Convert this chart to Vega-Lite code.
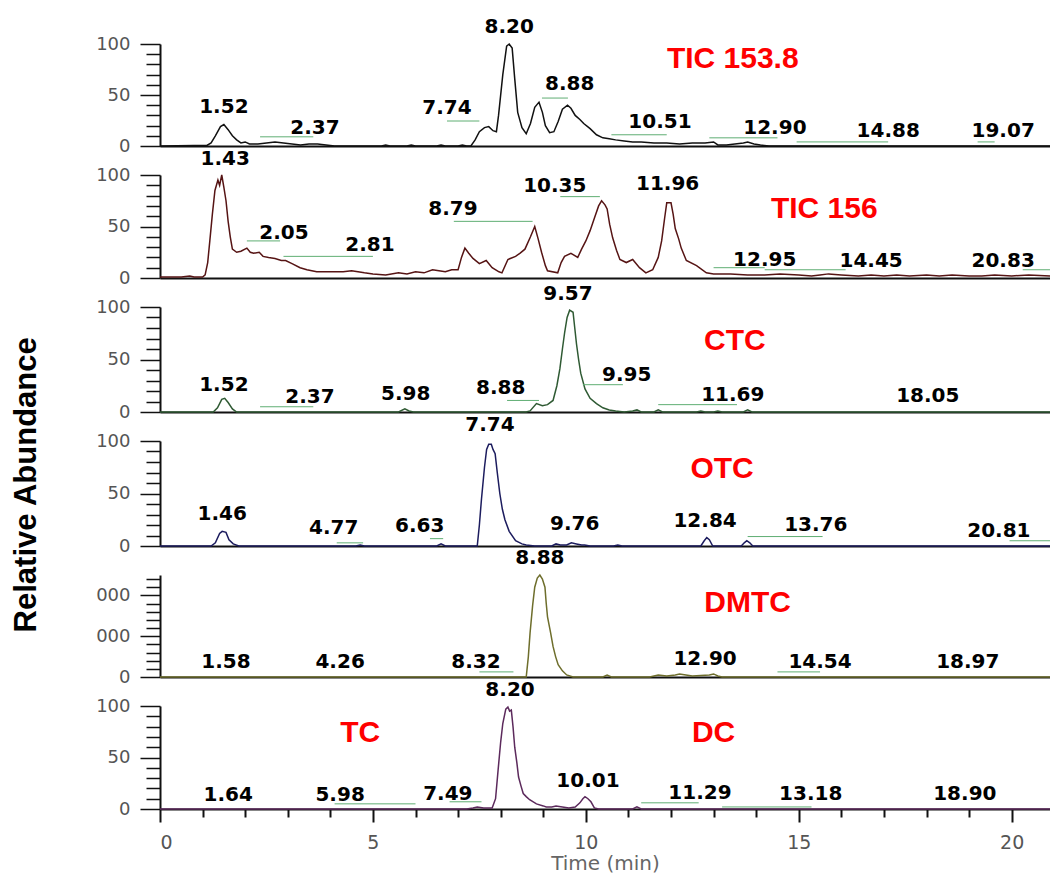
{
  "$schema": "https://vega.github.io/schema/vega-lite/v6.json",
  "background": "white",
  "padding": {"left": 10, "top": 16, "right": 0, "bottom": 0},
  "config": {"view": {"stroke": null}},
  "title": {"text": "Relative Abundance", "orient": "left", "anchor": "middle", "font": "Liberation Sans", "fontSize": 31, "fontWeight": "bold", "color": "#000", "offset": 53, "dx": -40},
  "spacing": 29,
  "bounds": "flush",
  "datasets": {
    "tr": [
      {"p":1,"t":0,"v":0},{"p":1,"t":0.8,"v":0.5},{"p":1,"t":1.1,"v":0.5},{"p":1,"t":1.2,"v":3},{"p":1,"t":1.3,"v":10},{"p":1,"t":1.42,"v":19},{"p":1,"t":1.5,"v":21},{"p":1,"t":1.6,"v":16},{"p":1,"t":1.7,"v":10},{"p":1,"t":1.8,"v":6},{"p":1,"t":1.9,"v":3},{"p":1,"t":2.0,"v":4},{"p":1,"t":2.1,"v":2},{"p":1,"t":2.3,"v":2},{"p":1,"t":2.5,"v":3},{"p":1,"t":2.7,"v":4},{"p":1,"t":2.9,"v":3},{"p":1,"t":3.1,"v":2},{"p":1,"t":3.3,"v":1},{"p":1,"t":3.5,"v":2},{"p":1,"t":3.7,"v":2},{"p":1,"t":3.9,"v":1},{"p":1,"t":4.1,"v":0},{"p":1,"t":5.2,"v":0},{"p":1,"t":5.3,"v":1},{"p":1,"t":5.4,"v":0},{"p":1,"t":5.8,"v":0},{"p":1,"t":5.9,"v":1},{"p":1,"t":6.0,"v":0},{"p":1,"t":6.5,"v":0},{"p":1,"t":6.6,"v":1},{"p":1,"t":6.7,"v":0},{"p":1,"t":7.0,"v":0},{"p":1,"t":7.1,"v":1},{"p":1,"t":7.2,"v":0},{"p":1,"t":7.3,"v":0},{"p":1,"t":7.4,"v":6},{"p":1,"t":7.5,"v":14},{"p":1,"t":7.62,"v":18},{"p":1,"t":7.72,"v":19},{"p":1,"t":7.82,"v":15},{"p":1,"t":7.9,"v":14},{"p":1,"t":7.95,"v":30},{"p":1,"t":8.05,"v":70},{"p":1,"t":8.14,"v":98},{"p":1,"t":8.2,"v":100},{"p":1,"t":8.27,"v":96},{"p":1,"t":8.33,"v":66},{"p":1,"t":8.4,"v":33},{"p":1,"t":8.5,"v":18},{"p":1,"t":8.6,"v":12},{"p":1,"t":8.7,"v":22},{"p":1,"t":8.8,"v":38},{"p":1,"t":8.9,"v":43},{"p":1,"t":8.98,"v":33},{"p":1,"t":9.05,"v":20},{"p":1,"t":9.15,"v":13},{"p":1,"t":9.25,"v":14},{"p":1,"t":9.35,"v":24},{"p":1,"t":9.45,"v":36},{"p":1,"t":9.57,"v":40},{"p":1,"t":9.65,"v":37},{"p":1,"t":9.75,"v":30},{"p":1,"t":9.86,"v":26},{"p":1,"t":9.95,"v":22},{"p":1,"t":10.1,"v":17},{"p":1,"t":10.25,"v":11},{"p":1,"t":10.4,"v":8},{"p":1,"t":10.55,"v":7},{"p":1,"t":10.7,"v":6},{"p":1,"t":10.9,"v":5},{"p":1,"t":11.1,"v":4},{"p":1,"t":11.3,"v":4},{"p":1,"t":11.6,"v":3},{"p":1,"t":11.9,"v":3},{"p":1,"t":12.2,"v":2},{"p":1,"t":12.5,"v":3},{"p":1,"t":12.8,"v":3},{"p":1,"t":13.0,"v":4},{"p":1,"t":13.1,"v":1},{"p":1,"t":13.3,"v":1},{"p":1,"t":13.5,"v":2},{"p":1,"t":13.7,"v":3},{"p":1,"t":13.8,"v":4},{"p":1,"t":13.95,"v":2},{"p":1,"t":14.1,"v":1},{"p":1,"t":14.3,"v":0},{"p":1,"t":20.9,"v":0},
      {"p":2,"t":0,"v":1},{"p":2,"t":0.5,"v":1},{"p":2,"t":0.7,"v":2},{"p":2,"t":0.8,"v":1},{"p":2,"t":1.0,"v":1},{"p":2,"t":1.06,"v":3},{"p":2,"t":1.12,"v":15},{"p":2,"t":1.17,"v":36},{"p":2,"t":1.23,"v":62},{"p":2,"t":1.29,"v":85},{"p":2,"t":1.36,"v":95},{"p":2,"t":1.4,"v":90},{"p":2,"t":1.45,"v":100},{"p":2,"t":1.5,"v":88},{"p":2,"t":1.55,"v":75},{"p":2,"t":1.6,"v":55},{"p":2,"t":1.65,"v":40},{"p":2,"t":1.7,"v":28},{"p":2,"t":1.8,"v":25},{"p":2,"t":1.9,"v":26},{"p":2,"t":2.04,"v":29},{"p":2,"t":2.12,"v":25},{"p":2,"t":2.2,"v":24},{"p":2,"t":2.33,"v":25},{"p":2,"t":2.42,"v":21},{"p":2,"t":2.55,"v":20},{"p":2,"t":2.7,"v":19},{"p":2,"t":2.85,"v":17},{"p":2,"t":2.95,"v":17},{"p":2,"t":3.1,"v":14},{"p":2,"t":3.29,"v":10},{"p":2,"t":3.45,"v":8},{"p":2,"t":3.68,"v":6},{"p":2,"t":4.0,"v":6},{"p":2,"t":4.3,"v":6},{"p":2,"t":4.5,"v":7},{"p":2,"t":4.8,"v":5},{"p":2,"t":5.0,"v":4},{"p":2,"t":5.3,"v":3},{"p":2,"t":5.6,"v":5},{"p":2,"t":5.8,"v":4},{"p":2,"t":6.0,"v":6},{"p":2,"t":6.2,"v":5},{"p":2,"t":6.4,"v":8},{"p":2,"t":6.55,"v":7},{"p":2,"t":6.7,"v":6},{"p":2,"t":6.85,"v":8},{"p":2,"t":7.0,"v":8},{"p":2,"t":7.08,"v":20},{"p":2,"t":7.16,"v":29},{"p":2,"t":7.25,"v":24},{"p":2,"t":7.35,"v":19},{"p":2,"t":7.5,"v":14},{"p":2,"t":7.66,"v":17},{"p":2,"t":7.8,"v":10},{"p":2,"t":7.96,"v":6},{"p":2,"t":8.03,"v":5},{"p":2,"t":8.17,"v":18},{"p":2,"t":8.35,"v":21},{"p":2,"t":8.45,"v":24},{"p":2,"t":8.57,"v":28},{"p":2,"t":8.7,"v":40},{"p":2,"t":8.8,"v":50},{"p":2,"t":8.88,"v":38},{"p":2,"t":8.96,"v":25},{"p":2,"t":9.05,"v":12},{"p":2,"t":9.1,"v":7},{"p":2,"t":9.34,"v":5},{"p":2,"t":9.42,"v":15},{"p":2,"t":9.5,"v":21},{"p":2,"t":9.65,"v":24},{"p":2,"t":9.81,"v":20},{"p":2,"t":9.9,"v":28},{"p":2,"t":10.0,"v":36},{"p":2,"t":10.1,"v":46},{"p":2,"t":10.2,"v":58},{"p":2,"t":10.3,"v":70},{"p":2,"t":10.37,"v":75},{"p":2,"t":10.45,"v":71},{"p":2,"t":10.5,"v":67},{"p":2,"t":10.56,"v":52},{"p":2,"t":10.63,"v":39},{"p":2,"t":10.72,"v":27},{"p":2,"t":10.8,"v":18},{"p":2,"t":10.95,"v":15},{"p":2,"t":11.1,"v":18},{"p":2,"t":11.26,"v":10},{"p":2,"t":11.41,"v":5},{"p":2,"t":11.57,"v":8},{"p":2,"t":11.7,"v":20},{"p":2,"t":11.78,"v":36},{"p":2,"t":11.85,"v":58},{"p":2,"t":11.9,"v":73},{"p":2,"t":12.0,"v":73},{"p":2,"t":12.05,"v":62},{"p":2,"t":12.1,"v":48},{"p":2,"t":12.18,"v":38},{"p":2,"t":12.24,"v":29},{"p":2,"t":12.36,"v":17},{"p":2,"t":12.6,"v":12},{"p":2,"t":12.83,"v":5},{"p":2,"t":13.0,"v":4},{"p":2,"t":13.4,"v":4},{"p":2,"t":13.8,"v":3},{"p":2,"t":14.2,"v":3},{"p":2,"t":14.56,"v":4},{"p":2,"t":15.0,"v":3},{"p":2,"t":15.3,"v":2},{"p":2,"t":15.5,"v":3},{"p":2,"t":15.7,"v":4},{"p":2,"t":16.0,"v":3},{"p":2,"t":16.4,"v":2},{"p":2,"t":16.7,"v":3},{"p":2,"t":17.0,"v":2},{"p":2,"t":17.3,"v":3},{"p":2,"t":17.6,"v":2},{"p":2,"t":18.0,"v":3},{"p":2,"t":18.3,"v":2},{"p":2,"t":18.6,"v":3},{"p":2,"t":19.0,"v":2},{"p":2,"t":19.3,"v":2},{"p":2,"t":19.6,"v":3},{"p":2,"t":20.0,"v":2},{"p":2,"t":20.4,"v":3},{"p":2,"t":20.9,"v":2},
      {"p":3,"t":0,"v":0},{"p":3,"t":1.25,"v":0},{"p":3,"t":1.35,"v":4},{"p":3,"t":1.45,"v":12},{"p":3,"t":1.52,"v":13},{"p":3,"t":1.6,"v":9},{"p":3,"t":1.7,"v":3},{"p":3,"t":1.8,"v":0},{"p":3,"t":5.6,"v":0},{"p":3,"t":5.75,"v":3},{"p":3,"t":5.85,"v":1},{"p":3,"t":5.95,"v":0},{"p":3,"t":8.6,"v":0},{"p":3,"t":8.69,"v":1},{"p":3,"t":8.84,"v":8},{"p":3,"t":8.98,"v":6},{"p":3,"t":9.1,"v":7},{"p":3,"t":9.23,"v":11},{"p":3,"t":9.32,"v":25},{"p":3,"t":9.39,"v":41},{"p":3,"t":9.45,"v":60},{"p":3,"t":9.5,"v":75},{"p":3,"t":9.56,"v":90},{"p":3,"t":9.62,"v":97},{"p":3,"t":9.7,"v":95},{"p":3,"t":9.74,"v":80},{"p":3,"t":9.78,"v":65},{"p":3,"t":9.83,"v":50},{"p":3,"t":9.88,"v":37},{"p":3,"t":9.98,"v":22},{"p":3,"t":10.1,"v":13},{"p":3,"t":10.25,"v":8},{"p":3,"t":10.4,"v":4},{"p":3,"t":10.55,"v":2},{"p":3,"t":10.7,"v":1},{"p":3,"t":10.9,"v":0},{"p":3,"t":11.1,"v":1},{"p":3,"t":11.2,"v":2},{"p":3,"t":11.3,"v":0},{"p":3,"t":11.6,"v":0},{"p":3,"t":11.7,"v":2},{"p":3,"t":11.8,"v":0},{"p":3,"t":12.6,"v":0},{"p":3,"t":12.7,"v":1},{"p":3,"t":12.8,"v":0},{"p":3,"t":13.0,"v":0},{"p":3,"t":13.1,"v":1},{"p":3,"t":13.2,"v":0},{"p":3,"t":13.7,"v":0},{"p":3,"t":13.8,"v":2},{"p":3,"t":13.9,"v":0},{"p":3,"t":20.9,"v":0},
      {"p":4,"t":0,"v":0},{"p":4,"t":1.2,"v":0},{"p":4,"t":1.3,"v":3},{"p":4,"t":1.4,"v":12},{"p":4,"t":1.46,"v":14},{"p":4,"t":1.55,"v":13},{"p":4,"t":1.62,"v":6},{"p":4,"t":1.72,"v":2},{"p":4,"t":1.85,"v":0},{"p":4,"t":4.6,"v":0},{"p":4,"t":4.7,"v":1},{"p":4,"t":4.8,"v":0},{"p":4,"t":6.5,"v":0},{"p":4,"t":6.6,"v":2},{"p":4,"t":6.7,"v":0},{"p":4,"t":7.45,"v":0},{"p":4,"t":7.5,"v":20},{"p":4,"t":7.55,"v":45},{"p":4,"t":7.62,"v":75},{"p":4,"t":7.67,"v":92},{"p":4,"t":7.72,"v":97},{"p":4,"t":7.78,"v":97},{"p":4,"t":7.82,"v":92},{"p":4,"t":7.87,"v":88},{"p":4,"t":7.92,"v":70},{"p":4,"t":7.98,"v":50},{"p":4,"t":8.04,"v":35},{"p":4,"t":8.1,"v":25},{"p":4,"t":8.2,"v":14},{"p":4,"t":8.35,"v":5},{"p":4,"t":8.5,"v":2},{"p":4,"t":8.6,"v":1},{"p":4,"t":8.8,"v":0},{"p":4,"t":9.2,"v":0},{"p":4,"t":9.3,"v":2},{"p":4,"t":9.4,"v":1},{"p":4,"t":9.55,"v":1},{"p":4,"t":9.66,"v":3},{"p":4,"t":9.78,"v":2},{"p":4,"t":9.9,"v":1},{"p":4,"t":9.97,"v":1},{"p":4,"t":10.1,"v":0},{"p":4,"t":10.65,"v":0},{"p":4,"t":10.75,"v":1},{"p":4,"t":10.85,"v":0},{"p":4,"t":12.7,"v":0},{"p":4,"t":12.78,"v":5},{"p":4,"t":12.84,"v":8},{"p":4,"t":12.9,"v":6},{"p":4,"t":12.98,"v":0},{"p":4,"t":13.65,"v":0},{"p":4,"t":13.72,"v":3},{"p":4,"t":13.78,"v":5},{"p":4,"t":13.85,"v":3},{"p":4,"t":13.92,"v":0},{"p":4,"t":20.9,"v":0},
      {"p":5,"t":0,"v":0},{"p":5,"t":8.6,"v":0},{"p":5,"t":8.65,"v":20},{"p":5,"t":8.69,"v":43},{"p":5,"t":8.75,"v":70},{"p":5,"t":8.8,"v":88},{"p":5,"t":8.86,"v":97},{"p":5,"t":8.92,"v":100},{"p":5,"t":8.98,"v":96},{"p":5,"t":9.04,"v":88},{"p":5,"t":9.07,"v":72},{"p":5,"t":9.1,"v":59},{"p":5,"t":9.17,"v":44},{"p":5,"t":9.23,"v":30},{"p":5,"t":9.29,"v":20},{"p":5,"t":9.35,"v":12},{"p":5,"t":9.45,"v":6},{"p":5,"t":9.55,"v":2},{"p":5,"t":9.7,"v":0},{"p":5,"t":10.4,"v":0},{"p":5,"t":10.5,"v":2},{"p":5,"t":10.6,"v":0},{"p":5,"t":11.5,"v":0},{"p":5,"t":11.7,"v":2},{"p":5,"t":11.9,"v":1},{"p":5,"t":12.1,"v":2},{"p":5,"t":12.2,"v":3},{"p":5,"t":12.35,"v":2},{"p":5,"t":12.5,"v":1},{"p":5,"t":12.9,"v":2},{"p":5,"t":13.0,"v":3},{"p":5,"t":13.1,"v":1},{"p":5,"t":13.2,"v":0},{"p":5,"t":20.9,"v":0},
      {"p":6,"t":0,"v":0},{"p":6,"t":7.2,"v":0},{"p":6,"t":7.35,"v":1},{"p":6,"t":7.45,"v":2},{"p":6,"t":7.6,"v":1},{"p":6,"t":7.8,"v":1},{"p":6,"t":7.88,"v":10},{"p":6,"t":7.94,"v":38},{"p":6,"t":8.0,"v":65},{"p":6,"t":8.05,"v":83},{"p":6,"t":8.12,"v":97},{"p":6,"t":8.17,"v":99},{"p":6,"t":8.21,"v":95},{"p":6,"t":8.25,"v":96},{"p":6,"t":8.29,"v":80},{"p":6,"t":8.33,"v":60},{"p":6,"t":8.38,"v":45},{"p":6,"t":8.42,"v":31},{"p":6,"t":8.48,"v":22},{"p":6,"t":8.53,"v":15},{"p":6,"t":8.6,"v":12},{"p":6,"t":8.68,"v":9},{"p":6,"t":8.84,"v":5},{"p":6,"t":9.0,"v":3},{"p":6,"t":9.07,"v":2},{"p":6,"t":9.2,"v":2},{"p":6,"t":9.3,"v":3},{"p":6,"t":9.45,"v":2},{"p":6,"t":9.6,"v":1},{"p":6,"t":9.75,"v":2},{"p":6,"t":9.86,"v":6},{"p":6,"t":9.93,"v":10},{"p":6,"t":9.98,"v":12},{"p":6,"t":10.05,"v":10},{"p":6,"t":10.12,"v":7},{"p":6,"t":10.2,"v":1},{"p":6,"t":10.3,"v":0},{"p":6,"t":11.1,"v":0},{"p":6,"t":11.2,"v":2},{"p":6,"t":11.3,"v":0},{"p":6,"t":20.9,"v":0}
    ],
    "lb": [
      {"p":1,"t":1.5,"v":38,"s":"1.52"},{"p":1,"t":3.64,"v":17.6,"s":"2.37"},{"p":1,"t":6.74,"v":37,"s":"7.74"},{"p":1,"t":8.2,"v":117,"s":"8.20"},{"p":1,"t":9.62,"v":61,"s":"8.88"},{"p":1,"t":11.74,"v":23.5,"s":"10.51"},{"p":1,"t":14.44,"v":17.6,"s":"12.90"},{"p":1,"t":17.1,"v":14.7,"s":"14.88"},{"p":1,"t":19.8,"v":14.7,"s":"19.07"},
      {"p":2,"t":1.53,"v":115.5,"s":"1.43"},{"p":2,"t":2.91,"v":43.7,"s":"2.05"},{"p":2,"t":4.93,"v":32,"s":"2.81"},{"p":2,"t":6.88,"v":67,"s":"8.79"},{"p":2,"t":9.27,"v":89,"s":"10.35"},{"p":2,"t":11.92,"v":91,"s":"11.96"},{"p":2,"t":14.2,"v":17.5,"s":"12.95"},{"p":2,"t":16.7,"v":16.5,"s":"14.45"},{"p":2,"t":19.8,"v":16.5,"s":"20.83"},
      {"p":3,"t":1.5,"v":26,"s":"1.52"},{"p":3,"t":3.52,"v":14,"s":"2.37"},{"p":3,"t":5.77,"v":17,"s":"5.98"},{"p":3,"t":8.0,"v":22.4,"s":"8.88"},{"p":3,"t":9.58,"v":112,"s":"9.57"},{"p":3,"t":10.96,"v":35.5,"s":"9.95"},{"p":3,"t":13.45,"v":16,"s":"11.69"},{"p":3,"t":18.03,"v":15,"s":"18.05"},
      {"p":4,"t":1.46,"v":30.5,"s":"1.46"},{"p":4,"t":4.08,"v":17,"s":"4.77"},{"p":4,"t":6.1,"v":19,"s":"6.63"},{"p":4,"t":7.75,"v":115,"s":"7.74"},{"p":4,"t":9.74,"v":21,"s":"9.76"},{"p":4,"t":12.8,"v":24,"s":"12.84"},{"p":4,"t":15.4,"v":20,"s":"13.76"},{"p":4,"t":19.7,"v":14,"s":"20.81"},
      {"p":5,"t":1.55,"v":14.7,"s":"1.58"},{"p":5,"t":4.23,"v":14.7,"s":"4.26"},{"p":5,"t":7.42,"v":14.7,"s":"8.32"},{"p":5,"t":8.92,"v":117,"s":"8.88"},{"p":5,"t":12.8,"v":17.6,"s":"12.90"},{"p":5,"t":15.5,"v":14.7,"s":"14.54"},{"p":5,"t":18.97,"v":14.7,"s":"18.97"},
      {"p":6,"t":8.22,"v":115.5,"s":"8.20"},{"p":6,"t":1.6,"v":13.6,"s":"1.64"},{"p":6,"t":4.23,"v":13.6,"s":"5.98"},{"p":6,"t":6.76,"v":14.5,"s":"7.49"},{"p":6,"t":10.05,"v":27,"s":"10.01"},{"p":6,"t":12.68,"v":15.5,"s":"11.29"},{"p":6,"t":15.28,"v":14.5,"s":"13.18"},{"p":6,"t":18.9,"v":14.5,"s":"18.90"}
    ],
    "gs": [
      {"p":1,"t":2.35,"t2":3.6,"v":9},{"p":1,"t":6.74,"t2":7.5,"v":24.5},{"p":1,"t":8.97,"t2":9.58,"v":47},{"p":1,"t":10.6,"t2":11.9,"v":11},{"p":1,"t":12.9,"t2":14.5,"v":8},{"p":1,"t":14.95,"t2":17.1,"v":4},{"p":1,"t":19.2,"t2":19.6,"v":4},
      {"p":2,"t":2.04,"t2":2.82,"v":36},{"p":2,"t":2.9,"t2":5.0,"v":21},{"p":2,"t":6.9,"t2":8.75,"v":55},{"p":2,"t":9.4,"t2":10.33,"v":79},{"p":2,"t":13.0,"t2":14.2,"v":10},{"p":2,"t":14.2,"t2":16.1,"v":8},{"p":2,"t":20.26,"t2":20.9,"v":8},
      {"p":3,"t":2.35,"t2":3.6,"v":5},{"p":3,"t":8.15,"t2":8.9,"v":11},{"p":3,"t":9.93,"t2":10.87,"v":26},{"p":3,"t":11.7,"t2":13.55,"v":7},
      {"p":4,"t":4.15,"t2":4.77,"v":3},{"p":4,"t":6.34,"t2":6.65,"v":7},{"p":4,"t":13.8,"t2":15.56,"v":9},{"p":4,"t":19.95,"t2":20.9,"v":5},
      {"p":5,"t":7.5,"t2":8.3,"v":5},{"p":5,"t":14.5,"t2":15.5,"v":5},
      {"p":6,"t":4.1,"t2":6.0,"v":5},{"p":6,"t":6.8,"t2":7.55,"v":7},{"p":6,"t":11.3,"t2":12.65,"v":6},{"p":6,"t":13.2,"t2":15.3,"v":2}
    ],
    "nm": [
      {"p":1,"t":13.45,"v":85,"s":"TIC 153.8"},
      {"p":2,"t":15.6,"v":67,"s":"TIC 156"},
      {"p":3,"t":13.5,"v":68,"s":"CTC"},
      {"p":4,"t":13.2,"v":73,"s":"OTC"},
      {"p":5,"t":13.8,"v":73,"s":"DMTC"},
      {"p":6,"t":4.7,"v":74,"s":"TC"},
      {"p":6,"t":13.0,"v":74,"s":"DC"}
    ]
  },
  "vconcat": [
    {
      "width": 890, "height": 102,
      "encoding": {
        "x": {"field": "t", "type": "quantitative", "scale": {"domain": [0, 20.9], "nice": false, "zero": false}, "axis": {"labels": false, "ticks": false, "title": null, "grid": false, "domainColor": "#111", "domainWidth": 2}},
        "y": {"field": "v", "type": "quantitative", "scale": {"domain": [0, 100], "nice": false}, "axis": {"values": [0,10,20,30,40,50,60,70,80,90,100], "labelExpr": "datum.value == 0 || datum.value == 50 || datum.value == 100 ? datum.label : ''", "title": null, "grid": false, "domainColor": "#111", "domainWidth": 2, "tickColor": "#111", "tickWidth": 1.5, "tickSize": {"condition": {"test": "datum.value == 0 || datum.value == 50 || datum.value == 100", "value": 20}, "value": 14}, "labelFont": "DejaVu Sans", "labelFontSize": 18, "labelColor": "#555", "labelPadding": 10, "labelOverlap": false}}
      },
      "layer": [
        {"data": {"name": "tr"}, "transform": [{"filter": "datum.p == 1"}], "mark": {"type": "line", "color": "#111111", "strokeWidth": 1.5}},
        {"data": {"name": "gs"}, "transform": [{"filter": "datum.p == 1"}], "mark": {"type": "rule", "color": "#5fae73", "strokeWidth": 1}, "encoding": {"x2": {"field": "t2"}}},
        {"data": {"name": "lb"}, "transform": [{"filter": "datum.p == 1"}], "mark": {"type": "text", "font": "DejaVu Sans", "fontWeight": "bold", "fontSize": 20, "color": "#000", "baseline": "middle", "align": "center", "clip": false}, "encoding": {"text": {"field": "s"}}},
        {"data": {"name": "nm"}, "transform": [{"filter": "datum.p == 1"}], "mark": {"type": "text", "font": "Liberation Sans", "fontWeight": "bold", "fontSize": 30, "color": "#ff0000", "baseline": "middle", "align": "center"}, "encoding": {"text": {"field": "s"}}}
      ]
    },
    {
      "width": 890, "height": 103,
      "encoding": {
        "x": {"field": "t", "type": "quantitative", "scale": {"domain": [0, 20.9], "nice": false, "zero": false}, "axis": {"labels": false, "ticks": false, "title": null, "grid": false, "domainColor": "#111", "domainWidth": 2}},
        "y": {"field": "v", "type": "quantitative", "scale": {"domain": [0, 100], "nice": false}, "axis": {"values": [0,10,20,30,40,50,60,70,80,90,100], "labelExpr": "datum.value == 0 || datum.value == 50 || datum.value == 100 ? datum.label : ''", "title": null, "grid": false, "domainColor": "#111", "domainWidth": 2, "tickColor": "#111", "tickWidth": 1.5, "tickSize": {"condition": {"test": "datum.value == 0 || datum.value == 50 || datum.value == 100", "value": 20}, "value": 14}, "labelFont": "DejaVu Sans", "labelFontSize": 18, "labelColor": "#555", "labelPadding": 10, "labelOverlap": false}}
      },
      "layer": [
        {"data": {"name": "tr"}, "transform": [{"filter": "datum.p == 2"}], "mark": {"type": "line", "color": "#561414", "strokeWidth": 1.5}},
        {"data": {"name": "gs"}, "transform": [{"filter": "datum.p == 2"}], "mark": {"type": "rule", "color": "#5fae73", "strokeWidth": 1}, "encoding": {"x2": {"field": "t2"}}},
        {"data": {"name": "lb"}, "transform": [{"filter": "datum.p == 2"}], "mark": {"type": "text", "font": "DejaVu Sans", "fontWeight": "bold", "fontSize": 20, "color": "#000", "baseline": "middle", "align": "center", "clip": false}, "encoding": {"text": {"field": "s"}}},
        {"data": {"name": "nm"}, "transform": [{"filter": "datum.p == 2"}], "mark": {"type": "text", "font": "Liberation Sans", "fontWeight": "bold", "fontSize": 30, "color": "#ff0000", "baseline": "middle", "align": "center"}, "encoding": {"text": {"field": "s"}}}
      ]
    },
    {
      "width": 890, "height": 105,
      "encoding": {
        "x": {"field": "t", "type": "quantitative", "scale": {"domain": [0, 20.9], "nice": false, "zero": false}, "axis": {"labels": false, "ticks": false, "title": null, "grid": false, "domainColor": "#111", "domainWidth": 2}},
        "y": {"field": "v", "type": "quantitative", "scale": {"domain": [0, 100], "nice": false}, "axis": {"values": [0,10,20,30,40,50,60,70,80,90,100], "labelExpr": "datum.value == 0 || datum.value == 50 || datum.value == 100 ? datum.label : ''", "title": null, "grid": false, "domainColor": "#111", "domainWidth": 2, "tickColor": "#111", "tickWidth": 1.5, "tickSize": {"condition": {"test": "datum.value == 0 || datum.value == 50 || datum.value == 100", "value": 20}, "value": 14}, "labelFont": "DejaVu Sans", "labelFontSize": 18, "labelColor": "#555", "labelPadding": 10, "labelOverlap": false}}
      },
      "layer": [
        {"data": {"name": "tr"}, "transform": [{"filter": "datum.p == 3"}], "mark": {"type": "line", "color": "#2f5a33", "strokeWidth": 1.5}},
        {"data": {"name": "gs"}, "transform": [{"filter": "datum.p == 3"}], "mark": {"type": "rule", "color": "#5fae73", "strokeWidth": 1}, "encoding": {"x2": {"field": "t2"}}},
        {"data": {"name": "lb"}, "transform": [{"filter": "datum.p == 3"}], "mark": {"type": "text", "font": "DejaVu Sans", "fontWeight": "bold", "fontSize": 20, "color": "#000", "baseline": "middle", "align": "center", "clip": false}, "encoding": {"text": {"field": "s"}}},
        {"data": {"name": "nm"}, "transform": [{"filter": "datum.p == 3"}], "mark": {"type": "text", "font": "Liberation Sans", "fontWeight": "bold", "fontSize": 30, "color": "#ff0000", "baseline": "middle", "align": "center"}, "encoding": {"text": {"field": "s"}}}
      ]
    },
    {
      "width": 890, "height": 105,
      "encoding": {
        "x": {"field": "t", "type": "quantitative", "scale": {"domain": [0, 20.9], "nice": false, "zero": false}, "axis": {"labels": false, "ticks": false, "title": null, "grid": false, "domainColor": "#111", "domainWidth": 2}},
        "y": {"field": "v", "type": "quantitative", "scale": {"domain": [0, 100], "nice": false}, "axis": {"values": [0,10,20,30,40,50,60,70,80,90,100], "labelExpr": "datum.value == 0 || datum.value == 50 || datum.value == 100 ? datum.label : ''", "title": null, "grid": false, "domainColor": "#111", "domainWidth": 2, "tickColor": "#111", "tickWidth": 1.5, "tickSize": {"condition": {"test": "datum.value == 0 || datum.value == 50 || datum.value == 100", "value": 20}, "value": 14}, "labelFont": "DejaVu Sans", "labelFontSize": 18, "labelColor": "#555", "labelPadding": 10, "labelOverlap": false}}
      },
      "layer": [
        {"data": {"name": "tr"}, "transform": [{"filter": "datum.p == 4"}], "mark": {"type": "line", "color": "#1c1c5e", "strokeWidth": 1.5}},
        {"data": {"name": "gs"}, "transform": [{"filter": "datum.p == 4"}], "mark": {"type": "rule", "color": "#5fae73", "strokeWidth": 1}, "encoding": {"x2": {"field": "t2"}}},
        {"data": {"name": "lb"}, "transform": [{"filter": "datum.p == 4"}], "mark": {"type": "text", "font": "DejaVu Sans", "fontWeight": "bold", "fontSize": 20, "color": "#000", "baseline": "middle", "align": "center", "clip": false}, "encoding": {"text": {"field": "s"}}},
        {"data": {"name": "nm"}, "transform": [{"filter": "datum.p == 4"}], "mark": {"type": "text", "font": "Liberation Sans", "fontWeight": "bold", "fontSize": 30, "color": "#ff0000", "baseline": "middle", "align": "center"}, "encoding": {"text": {"field": "s"}}}
      ]
    },
    {
      "width": 890, "height": 102,
      "encoding": {
        "x": {"field": "t", "type": "quantitative", "scale": {"domain": [0, 20.9], "nice": false, "zero": false}, "axis": {"labels": false, "ticks": false, "title": null, "grid": false, "domainColor": "#111", "domainWidth": 2}},
        "y": {"field": "v", "type": "quantitative", "scale": {"domain": [0, 100], "nice": false}, "axis": {"values": [0,8,16,24,32,40,48,56,64,72,80,88,96], "labelExpr": "datum.value == 0 ? '0' : (datum.value == 40 || datum.value == 80 ? '000' : '')", "title": null, "grid": false, "domainColor": "#111", "domainWidth": 2, "tickColor": "#111", "tickWidth": 1.5, "tickSize": {"condition": {"test": "datum.value == 0 || datum.value == 40 || datum.value == 80", "value": 20}, "value": 14}, "labelFont": "DejaVu Sans", "labelFontSize": 18, "labelColor": "#555", "labelPadding": 10, "labelOverlap": false}}
      },
      "layer": [
        {"data": {"name": "tr"}, "transform": [{"filter": "datum.p == 5"}], "mark": {"type": "line", "color": "#6e6e2c", "strokeWidth": 1.5}},
        {"data": {"name": "gs"}, "transform": [{"filter": "datum.p == 5"}], "mark": {"type": "rule", "color": "#5fae73", "strokeWidth": 1}, "encoding": {"x2": {"field": "t2"}}},
        {"data": {"name": "lb"}, "transform": [{"filter": "datum.p == 5"}], "mark": {"type": "text", "font": "DejaVu Sans", "fontWeight": "bold", "fontSize": 20, "color": "#000", "baseline": "middle", "align": "center", "clip": false}, "encoding": {"text": {"field": "s"}}},
        {"data": {"name": "nm"}, "transform": [{"filter": "datum.p == 5"}], "mark": {"type": "text", "font": "Liberation Sans", "fontWeight": "bold", "fontSize": 30, "color": "#ff0000", "baseline": "middle", "align": "center"}, "encoding": {"text": {"field": "s"}}}
      ]
    },
    {
      "width": 890, "height": 103,
      "encoding": {
        "x": {"field": "t", "type": "quantitative", "scale": {"domain": [0, 20.9], "nice": false, "zero": false}, "axis": {"values": [0,1,2,3,4,5,6,7,8,9,10,11,12,13,14,15,16,17,18,19,20], "labelExpr": "datum.value % 5 === 0 ? datum.label : ''", "tickSize": {"condition": {"test": "datum.value % 5 === 0", "value": 13}, "value": 8}, "title": "Time (min)", "titleFont": "DejaVu Sans", "titleFontSize": 20, "titleFontWeight": "normal", "titleColor": "#666", "titlePadding": 1, "labelFont": "DejaVu Sans", "labelFontSize": 19, "labelColor": "#555", "labelPadding": 11, "labelOverlap": false, "grid": false, "domainColor": "#111", "domainWidth": 2, "tickColor": "#111", "tickWidth": 2}},
        "y": {"field": "v", "type": "quantitative", "scale": {"domain": [0, 100], "nice": false}, "axis": {"values": [0,10,20,30,40,50,60,70,80,90,100], "labelExpr": "datum.value == 0 || datum.value == 50 || datum.value == 100 ? datum.label : ''", "title": null, "grid": false, "domainColor": "#111", "domainWidth": 2, "tickColor": "#111", "tickWidth": 1.5, "tickSize": {"condition": {"test": "datum.value == 0 || datum.value == 50 || datum.value == 100", "value": 20}, "value": 14}, "labelFont": "DejaVu Sans", "labelFontSize": 18, "labelColor": "#555", "labelPadding": 10, "labelOverlap": false}}
      },
      "layer": [
        {"data": {"name": "tr"}, "transform": [{"filter": "datum.p == 6"}], "mark": {"type": "line", "color": "#5c2a5c", "strokeWidth": 1.5}},
        {"data": {"name": "gs"}, "transform": [{"filter": "datum.p == 6"}], "mark": {"type": "rule", "color": "#5fae73", "strokeWidth": 1}, "encoding": {"x2": {"field": "t2"}}},
        {"data": {"name": "lb"}, "transform": [{"filter": "datum.p == 6"}], "mark": {"type": "text", "font": "DejaVu Sans", "fontWeight": "bold", "fontSize": 20, "color": "#000", "baseline": "middle", "align": "center", "clip": false}, "encoding": {"text": {"field": "s"}}},
        {"data": {"name": "nm"}, "transform": [{"filter": "datum.p == 6"}], "mark": {"type": "text", "font": "Liberation Sans", "fontWeight": "bold", "fontSize": 30, "color": "#ff0000", "baseline": "middle", "align": "center"}, "encoding": {"text": {"field": "s"}}}
      ]
    }
  ]
}
